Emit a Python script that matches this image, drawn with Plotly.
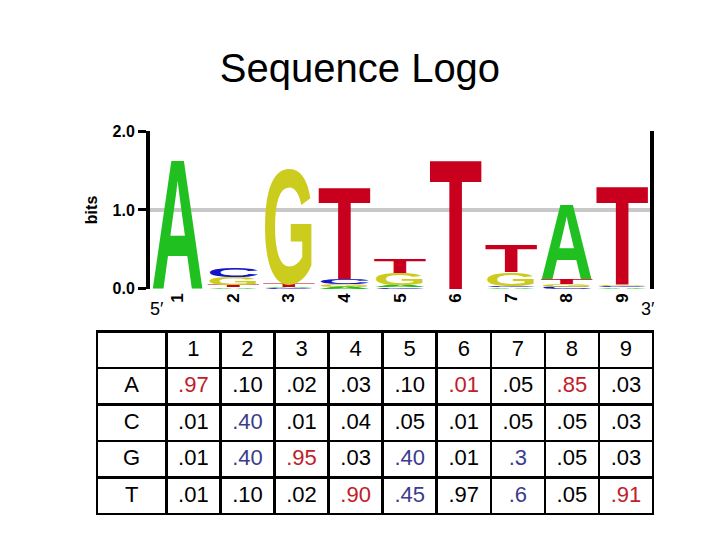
import plotly.graph_objects as go

positions = [1, 2, 3, 4, 5, 6, 7, 8, 9]
bases = ["A", "C", "G", "T"]

# letter heights in bits
bits_A = [1.68, 0.02, 0.02, 0.03, 0.03, 0.0, 0.02, 0.97, 0.02]
bits_C = [0.0, 0.12, 0.01, 0.07, 0.02, 0.0, 0.02, 0.03, 0.02]
bits_G = [0.0, 0.10, 1.49, 0.03, 0.15, 0.0, 0.17, 0.03, 0.02]
bits_T = [0.0, 0.03, 0.05, 1.20, 0.19, 1.68, 0.35, 0.06, 1.28]

# frequency table
freq_A = [".97", ".10", ".02", ".03", ".10", ".01", ".05", ".85", ".03"]
freq_C = [".01", ".40", ".01", ".04", ".05", ".01", ".05", ".05", ".03"]
freq_G = [".01", ".40", ".95", ".03", ".40", ".01", ".3", ".05", ".03"]
freq_T = [".01", ".10", ".02", ".90", ".45", ".97", ".6", ".05", ".91"]

# which table cells are highlighted: r = red, b = blue
mark_A = ["r", "", "", "", "", "r", "", "r", ""]
mark_C = ["", "b", "", "", "", "", "", "", ""]
mark_G = ["", "b", "r", "", "b", "", "b", "", ""]
mark_T = ["", "", "", "r", "b", "", "b", "", "r"]

base_colors = {"A": "#20c020", "C": "#1414c8", "G": "#cccc1e", "T": "#c8001e"}
mark_colors = {"": "black", "r": "#c0202a", "b": "#3c3c8c"}

bits = {"A": bits_A, "C": bits_C, "G": bits_G, "T": bits_T}

fig = go.Figure()

# stack letters smallest at the bottom, one trace per rank
for rank in range(4):
    ys, txt, cols = [], [], []
    for i in range(len(positions)):
        order = sorted(bases, key=lambda b: bits[b][i])
        b = order[rank]
        ys.append(bits[b][i])
        txt.append(b)
        cols.append(base_colors[b])
    fig.add_trace(go.Bar(
        x=positions, y=ys, text=txt, textposition="inside",
        insidetextanchor="middle", constraintext="none",
        textfont=dict(family="Liberation Sans", size=40, color=cols, weight="bold"),
        marker=dict(color="rgba(0,0,0,0)", line=dict(width=0)),
        hoverinfo="skip", showlegend=False, cliponaxis=False,
    ))

fig.update_layout(
    barmode="stack", bargap=0.04,
    width=720, height=540, margin=dict(l=0, r=0, t=0, b=0),
    plot_bgcolor="white", paper_bgcolor="white",
    font=dict(family="Liberation Sans", color="black"),
    title=dict(text="Sequence Logo", x=0.5, y=1 - 68 / 540, xanchor="center",
               yanchor="middle", font=dict(size=40, family="Liberation Sans")),
)
fig.update_xaxes(
    domain=[150 / 720, 650 / 720], range=[0.5, 9.5], tickvals=positions,
    tickangle=-90, tickfont=dict(size=17, weight="bold"), showgrid=False,
    zeroline=False, showline=False, ticks="",
)
fig.update_yaxes(
    domain=[1 - 290 / 540, 1 - 127 / 540], range=[0, 2], tickvals=[0, 1, 2],
    tickformat=".1f", tickfont=dict(size=16, weight="bold"),
    showgrid=True, gridcolor="#c8c8c8", gridwidth=4, zeroline=False,
    showline=True, linecolor="black", linewidth=4, mirror=True,
    ticks="outside", ticklen=8, tickwidth=3, tickcolor="black",
    title=dict(text="bits", font=dict(size=16, weight="bold"), standoff=12),
)
fig.add_annotation(text="5′", x=148 / 720, y=1 - 311 / 540, xref="paper", yref="paper",
                   showarrow=False, font=dict(size=18))
fig.add_annotation(text="3′", x=657 / 720, y=1 - 311 / 540, xref="paper", yref="paper",
                   showarrow=False, font=dict(size=18))

# table
freqs = {"A": freq_A, "C": freq_C, "G": freq_G, "T": freq_T}
marks = {"A": mark_A, "C": mark_C, "G": mark_G, "T": mark_T}
header = [""] + [str(p) for p in positions]
cols_vals = [bases] + [[freqs[b][i] for b in bases] for i in range(len(positions))]
cols_font = [["black"] * 4] + [[mark_colors[marks[b][i]] for b in bases] for i in range(len(positions))]
fig.add_trace(go.Table(
    domain=dict(x=[97 / 720, 653 / 720], y=[1 - 530 / 540, 1 - 334 / 540]),
    columnwidth=[68] + [53] * 9,
    header=dict(values=header, height=36.5, align="center", fill_color="white",
                line=dict(color="black", width=2.5),
                font=dict(size=22, color="black", family="Liberation Sans")),
    cells=dict(values=cols_vals, height=36.5, align="center", fill_color="white",
               line=dict(color="black", width=2.5),
               font=dict(size=22, color=cols_font, family="Liberation Sans")),
))

stretch_js = """
document.body.style.margin = '0';
var gd = document.getElementById('{plot_id}');
function stretch() {
  gd.querySelectorAll('.barlayer .point').forEach(function (p) {
    var path = p.querySelector('path');
    var t = p.querySelector('text');
    if (!path || !t) return;
    var b = path.getBBox();
    if (b.height < 0.5) { t.style.display = 'none'; return; }
    var fs = parseFloat(t.style.fontSize) || 40;
    t.textContent = t.textContent;
    t.removeAttribute('transform');
    t.setAttribute('x', 0); t.setAttribute('y', 0); t.setAttribute('dy', 0);
    t.setAttribute('text-anchor', 'start');
    t.style.display = '';
    var tb = t.getBBox();
    var sx = b.width / tb.width, sy = b.height / (0.716 * fs);
    t.setAttribute('transform', 'translate(' + b.x + ',' + (b.y + b.height) + ') scale(' +
      sx + ',' + sy + ') translate(' + (-tb.x) + ',0)');
  });
}
stretch();
gd.on('plotly_afterplot', stretch);
"""

fig.write_html("out.html", post_script=stretch_js, config={"displayModeBar": False})
